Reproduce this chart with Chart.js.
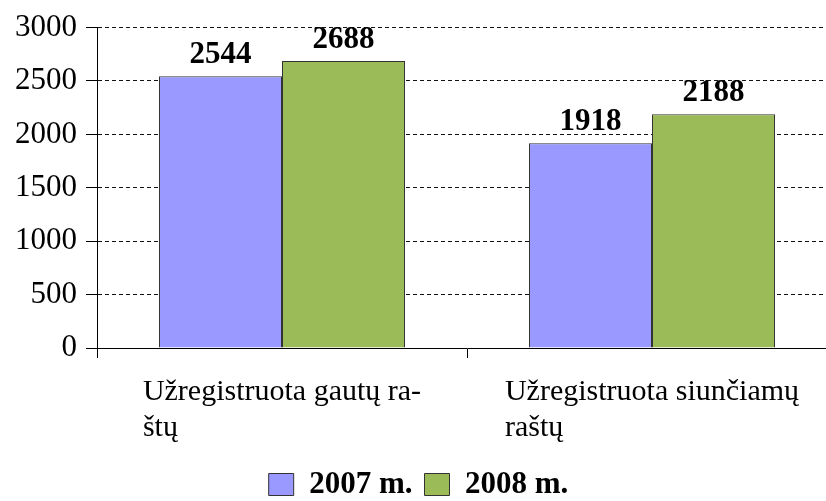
<!DOCTYPE html>
<html>
<head>
<meta charset="utf-8">
<script src="https://cdn.jsdelivr.net/npm/chart.js@4.4.1/dist/chart.umd.min.js"></script>
<style>
  html, body { margin: 0; padding: 0; overflow: hidden; background: #fff; }
  #wrap { width: 837px; height: 501px; }
</style>
</head>
<body>
<div id="wrap"><canvas id="chart" width="837" height="501"></canvas></div>
<script>
const categories = [
  ["Užregistruota gautų ra-", "štų"],
  ["Užregistruota siunčiamų", "raštų"]
];
const seriesNames = ["2007 m.", "2008 m."];
const values2007 = [2544, 1918];
const values2008 = [2688, 2188];
const yTicks = [0, 500, 1000, 1500, 2000, 2500, 3000];

const serif = '"Liberation Serif", "Times New Roman", serif';

// numbers above the bars
const valueLabels = {
  id: "valueLabels",
  afterDatasetsDraw(chart) {
    const ctx = chart.ctx;
    ctx.save();
    ctx.font = "bold 31px " + serif;
    ctx.fillStyle = "#000";
    ctx.textAlign = "center";
    ctx.textBaseline = "alphabetic";
    chart.data.datasets.forEach((ds, i) => {
      chart.getDatasetMeta(i).data.forEach((bar, j) => {
        ctx.fillText(ds.data[j], bar.x, bar.y - 13);
      });
    });
    ctx.restore();
  }
};

// category labels: block centred under the category, lines left aligned
const catLabels = {
  id: "catLabels",
  afterDraw(chart) {
    const ctx = chart.ctx;
    const xs = chart.scales.x;
    ctx.save();
    ctx.font = "30px " + serif;
    ctx.fillStyle = "#000";
    ctx.textAlign = "left";
    ctx.textBaseline = "alphabetic";
    categories.forEach((lines, i) => {
      const cx = xs.getPixelForValue(i);
      const w = Math.max(...lines.map(l => ctx.measureText(l).width));
      lines.forEach((l, k) => ctx.fillText(l, cx - w / 2, xs.top + 52 + k * 36));
    });
    ctx.restore();
  }
};

new Chart(document.getElementById("chart"), {
  type: "bar",
  data: {
    labels: categories,
    datasets: [
      { label: seriesNames[0], data: values2007, backgroundColor: "#9999FF", borderColor: "#333", borderWidth: 1 },
      { label: seriesNames[1], data: values2008, backgroundColor: "#9BBB59", borderColor: "#333", borderWidth: 1 }
    ]
  },
  options: {
    responsive: false,
    animation: false,
    layout: { padding: { top: 27, left: 0, right: 0, bottom: -9 } },
    datasets: { bar: { categoryPercentage: 0.665, barPercentage: 1 } },
    plugins: {
      legend: {
        position: "bottom",
        labels: {
          font: { family: serif, size: 31, weight: "bold" },
          color: "#000",
          boxWidth: 25,
          boxHeight: 22,
          padding: 12
        }
      },
      tooltip: { enabled: false }
    },
    scales: {
      x: {
        grid: { offset: true, drawOnChartArea: false, drawTicks: true, tickLength: 10, color: "#000" },
        border: { color: "#000", width: 1 },
        ticks: { color: "rgba(0,0,0,0)", font: { family: serif, size: 30 } },
        afterFit(scale) { scale.height = 109; }
      },
      y: {
        min: 0,
        max: 3000,
        afterBuildTicks(scale) { scale.ticks = yTicks.map(v => ({ value: v })); },
        grid: { color: "#111", tickColor: "#000", tickLength: 11, tickBorderDash: [] },
        border: { color: "#000", width: 1, dash: [4, 3] },
        ticks: { color: "#000", padding: 9, font: { family: serif, size: 31 }, callback: v => String(v) },
        afterFit(scale) { scale.width = 97; }
      }
    }
  },
  plugins: [valueLabels, catLabels]
});
</script>
</body>
</html>
